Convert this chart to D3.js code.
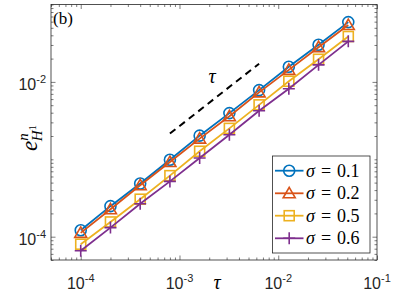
<!DOCTYPE html>
<html>
<head>
<meta charset="utf-8">
<script src="https://cdn.jsdelivr.net/npm/d3@7"></script>
<style>
  body { margin: 0; background: #fff; }
  svg { display: block; }
</style>
</head>
<body>
<div id="chart"></div>
<script>
// step sizes tau
var tau = [1e-4, 2e-4, 4e-4, 8e-4, 1.6e-3, 3.2e-3, 6.4e-3, 1.28e-2, 2.56e-2, 5.12e-2];

// H1 errors, one array per sigma
var err01 = [1.21e-4, 2.48e-4, 4.86e-4, 9.86e-4, 2.02e-3, 3.95e-3, 7.83e-3, 1.57e-2, 3.02e-2, 5.92e-2];
var err02 = [1.12e-4, 2.26e-4, 4.62e-4, 9.23e-4, 1.85e-3, 3.60e-3, 7.32e-3, 1.43e-2, 2.81e-2, 5.43e-2];
var err05 = [8.0e-5, 1.55e-4, 3.05e-4, 6.15e-4, 1.27e-3, 2.51e-3, 5.05e-3, 1.02e-2, 1.96e-2, 3.86e-2];
var err06 = [6.59e-5, 1.31e-4, 2.67e-4, 5.18e-4, 1.04e-3, 2.08e-3, 4.23e-3, 8.17e-3, 1.66e-2, 3.34e-2];

var sigmaLabels = ["0.1", "0.2", "0.5", "0.6"];
var seriesColors = ["#0072BD", "#D95319", "#EDB120", "#7E2F8E"];
var markers = ["circle", "triangle", "square", "plus"];

// reference slope line (order 1)
var refTau = [8e-4, 6.4e-3];
var refErr = [2.15e-3, 1.72e-2];

var xMajor = [1e-4, 1e-3, 1e-2, 1e-1];
var xMajorExp = ["-4", "-3", "-2", "-1"];
var yMajor = [1e-4, 1e-2];
var yMajorExp = ["-4", "-2"];

var width = 395, height = 296;
var pL = 51, pR = 377, pT = 4.5, pB = 260;
var axisCol = "#262626";

var svg = d3.select("#chart").append("svg")
	.attr("width", width)
	.attr("height", height);

var x = d3.scaleLog().domain([5e-5, 1e-1]).range([pL, pR]);
var y = d3.scaleLog().domain([5e-5, 1e-1]).range([pB, pT]);

function isMajor(list, d){
	return list.some(function(m){ return Math.abs(m - d) / m < 1e-6; });
}
var xMinor = x.ticks().filter(function(d){ return !isMajor(xMajor, d); });
var yMinor = y.ticks().filter(function(d){ return !isMajor(yMajor, d); });

// axes with inward ticks on all four sides
function styleAxis(g){
	g.select(".domain").remove();
	g.selectAll("line").style("stroke", axisCol).style("stroke-width", 0.6);
}
svg.append("g").attr("transform", "translate(0," + pB + ")")
	.call(d3.axisBottom(x).tickValues(xMinor).tickSize(-2.5).tickFormat("")).call(styleAxis);
svg.append("g").attr("transform", "translate(0," + pB + ")")
	.call(d3.axisBottom(x).tickValues(xMajor).tickSize(-4.5).tickFormat("")).call(styleAxis);
svg.append("g").attr("transform", "translate(0," + pT + ")")
	.call(d3.axisTop(x).tickValues(xMinor).tickSize(-2.5).tickFormat("")).call(styleAxis);
svg.append("g").attr("transform", "translate(0," + pT + ")")
	.call(d3.axisTop(x).tickValues(xMajor).tickSize(-4.5).tickFormat("")).call(styleAxis);
svg.append("g").attr("transform", "translate(" + pL + ",0)")
	.call(d3.axisLeft(y).tickValues(yMinor).tickSize(-2.5).tickFormat("")).call(styleAxis);
svg.append("g").attr("transform", "translate(" + pL + ",0)")
	.call(d3.axisLeft(y).tickValues(yMajor).tickSize(-4.5).tickFormat("")).call(styleAxis);
svg.append("g").attr("transform", "translate(" + pR + ",0)")
	.call(d3.axisRight(y).tickValues(yMinor).tickSize(-2.5).tickFormat("")).call(styleAxis);
svg.append("g").attr("transform", "translate(" + pR + ",0)")
	.call(d3.axisRight(y).tickValues(yMajor).tickSize(-4.5).tickFormat("")).call(styleAxis);

svg.append("rect")
	.attr("x", pL).attr("y", pT)
	.attr("width", pR - pL).attr("height", pB - pT)
	.style("fill", "none").style("stroke", axisCol).style("stroke-width", 0.8);

// tick labels 10^k
var lblFont = "'Liberation Sans', Arial, sans-serif";
xMajor.forEach(function(v, i){
	var t = svg.append("text")
		.attr("x", x(v)).attr("y", 289)
		.attr("text-anchor", "middle")
		.style("font-family", lblFont).style("font-size", "16px").style("fill", axisCol);
	t.append("tspan").text("10");
	t.append("tspan").attr("dy", -7).style("font-size", "11px").text(xMajorExp[i]);
});
yMajor.forEach(function(v, i){
	var t = svg.append("text")
		.attr("x", 46).attr("y", y(v) + 8)
		.attr("text-anchor", "end")
		.style("font-family", lblFont).style("font-size", "16px").style("fill", axisCol);
	t.append("tspan").text("10");
	t.append("tspan").attr("dy", -7).style("font-size", "11px").text(yMajorExp[i]);
});

var serif = "'Liberation Serif', 'Times New Roman', serif";

// axis titles
svg.append("text")
	.attr("x", 217).attr("y", 289)
	.attr("text-anchor", "middle")
	.style("font-family", serif).style("font-style", "italic").style("font-size", "20px")
	.text("τ");

var yl = svg.append("text")
	.attr("transform", "translate(37,138) rotate(-90)")
	.attr("text-anchor", "middle")
	.style("font-family", serif).style("font-style", "italic").style("font-size", "23px")
	.style("fill", "#000");
yl.append("tspan").text("e");
yl.append("tspan").attr("dy", -9).style("font-size", "15px").text("n");
yl.append("tspan").attr("dx", -8).attr("dy", 14).style("font-size", "15px").text("H");
yl.append("tspan").attr("dy", -6).style("font-size", "11px").style("font-style", "normal").text("1");

// panel tag
svg.append("text")
	.attr("x", 53).attr("y", 24)
	.style("font-family", serif).style("font-size", "17px")
	.text("(b)");

// reference line and its label
svg.append("line")
	.attr("x1", x(refTau[0])).attr("y1", y(refErr[0]))
	.attr("x2", x(refTau[1])).attr("y2", y(refErr[1]))
	.style("stroke", "#000").style("stroke-width", 2)
	.style("stroke-dasharray", "7,5");
svg.append("text")
	.attr("x", 212).attr("y", 83)
	.attr("text-anchor", "middle")
	.style("font-family", serif).style("font-style", "italic").style("font-size", "20px")
	.text("τ");

// marker drawing
function drawMarker(g, type, cx, cy, col){
	if(type == "circle"){
		g.append("circle").attr("cx", cx).attr("cy", cy).attr("r", 5.5)
			.style("fill", "none").style("stroke", col).style("stroke-width", 1.6);
	}else if(type == "triangle"){
		g.append("path")
			.attr("d", "M" + cx + "," + (cy - 6) + "L" + (cx + 6) + "," + (cy + 4.5) + "L" + (cx - 6) + "," + (cy + 4.5) + "Z")
			.style("fill", "none").style("stroke", col).style("stroke-width", 1.6);
	}else if(type == "square"){
		g.append("rect").attr("x", cx - 5).attr("y", cy - 5).attr("width", 10).attr("height", 10)
			.style("fill", "none").style("stroke", col).style("stroke-width", 1.6);
	}else{
		g.append("path")
			.attr("d", "M" + (cx - 6) + "," + cy + "H" + (cx + 6) + "M" + cx + "," + (cy - 6) + "V" + (cy + 6))
			.style("fill", "none").style("stroke", col).style("stroke-width", 1.6);
	}
}

var line = d3.line()
	.x(function(d){ return x(d[0]); })
	.y(function(d){ return y(d[1]); });

var allErr = [err01, err02, err05, err06];
allErr.forEach(function(errs, s){
	var pts = tau.map(function(t, i){ return [t, errs[i]]; });
	var g = svg.append("g");
	g.append("path")
		.attr("d", line(pts))
		.style("fill", "none")
		.style("stroke", seriesColors[s])
		.style("stroke-width", 1.8);
	pts.forEach(function(p){
		drawMarker(g, markers[s], x(p[0]), y(p[1]), seriesColors[s]);
	});
});

// legend
var lgX = 272.5, lgY = 156, lgW = 97.5, lgH = 97;
svg.append("rect")
	.attr("x", lgX).attr("y", lgY).attr("width", lgW).attr("height", lgH)
	.style("fill", "#fff").style("stroke", axisCol).style("stroke-width", 0.8);
var rowY = [170.7, 193.3, 215.7, 238.3];
sigmaLabels.forEach(function(lab, s){
	var g = svg.append("g");
	g.append("line")
		.attr("x1", 275).attr("x2", 303.5)
		.attr("y1", rowY[s]).attr("y2", rowY[s])
		.style("stroke", seriesColors[s]).style("stroke-width", 1.8);
	drawMarker(g, markers[s], 289.2, rowY[s], seriesColors[s]);
	var t = g.append("text")
		.attr("x", 306).attr("y", rowY[s] + 6)
		.style("font-family", serif).style("font-size", "18px");
	t.append("tspan").style("font-style", "italic").text("σ");
	t.append("tspan").attr("dx", 6).text("=");
	t.append("tspan").attr("dx", 6).text(lab);
});
</script>
</body>
</html>
